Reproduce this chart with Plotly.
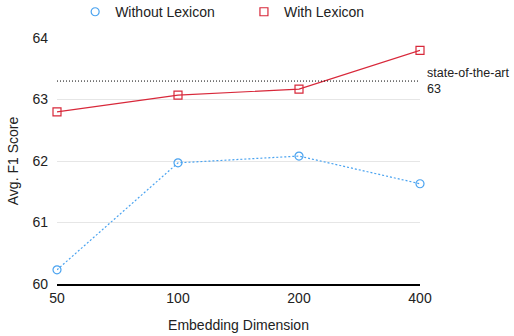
import plotly.graph_objects as go

dims = ["50", "100", "200", "400"]
without_lexicon = [60.23, 61.97, 62.08, 61.63]
with_lexicon = [62.80, 63.07, 63.17, 63.80]
state_of_the_art = 63.3

blue = "#4aa3f0"
red = "#d8283a"

fig = go.Figure()
fig.add_trace(go.Scatter(
    x=dims, y=without_lexicon, name="Without Lexicon", mode="lines+markers",
    line=dict(color=blue, width=1.2, dash="2px,2px"),
    marker=dict(symbol="circle-open", size=8, color=blue, line=dict(width=1.2)),
    cliponaxis=False, showlegend=False,
))
fig.add_trace(go.Scatter(
    x=dims, y=with_lexicon, name="With Lexicon", mode="lines+markers",
    line=dict(color=red, width=1.2),
    marker=dict(symbol="square-open", size=8, color=red, line=dict(width=1.2)),
    cliponaxis=False, showlegend=False,
))
# legend entries: marker only, one legend each so they can be placed apart
fig.add_trace(go.Scatter(
    x=[None], y=[None], name="Without Lexicon", mode="markers", legend="legend",
    marker=dict(symbol="circle-open", size=8, color=blue, line=dict(width=1.2)),
))
fig.add_trace(go.Scatter(
    x=[None], y=[None], name="With Lexicon", mode="markers", legend="legend2",
    marker=dict(symbol="square-open", size=8, color=red, line=dict(width=1.2)),
))
fig.add_shape(type="line", xref="paper", yref="y", x0=0, x1=1,
              y0=state_of_the_art, y1=state_of_the_art,
              line=dict(color="black", width=1, dash="1px,2px"))
fig.add_annotation(xref="paper", yref="y", x=1.0, xshift=5, y=state_of_the_art,
                   text="state-of-the-art<br>63", showarrow=False,
                   xanchor="left", yanchor="middle", align="left",
                   font=dict(size=12.5, color="#222"))

leg = dict(orientation="h", y=1.04, yanchor="bottom", xanchor="left",
           font=dict(size=14), itemwidth=30, bgcolor="rgba(0,0,0,0)")

fig.update_layout(
    width=514, height=336,
    margin=dict(l=57, r=94, t=38, b=52, autoexpand=False),
    plot_bgcolor="white", paper_bgcolor="white",
    font=dict(family="Liberation Sans, Arial, sans-serif", size=14, color="#222"),
    showlegend=True,
    legend=dict(leg, x=0.05),
    legend2=dict(leg, x=0.515),
    xaxis=dict(type="category", range=[0, 3], showgrid=False,
               showline=True, linecolor="black", linewidth=1.5,
               ticks="", title=dict(text="Embedding Dimension", font=dict(size=14), standoff=16)),
    yaxis=dict(range=[60, 64], dtick=1, showgrid=True, gridcolor="#e6e6e6",
               zeroline=False, showline=False, ticks="", ticklabelstandoff=8,
               title=dict(text="Avg. F1 Score", font=dict(size=14), standoff=10)),
)

# drop the default page margin so the figure sits at the window corner
fig.write_html("out.html", config={"displayModeBar": False},
               post_script="document.body.style.margin='0';")
